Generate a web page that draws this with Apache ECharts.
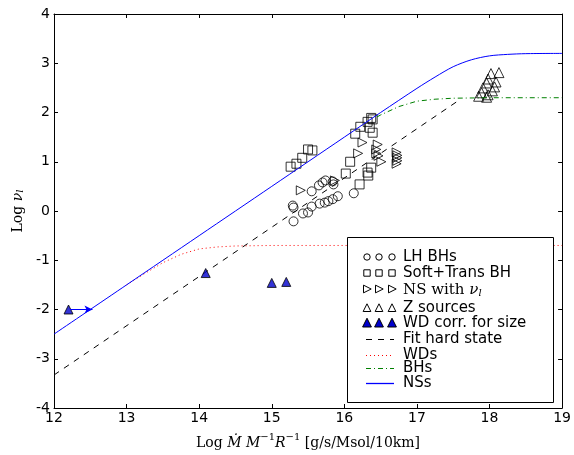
<!DOCTYPE html>
<html>
<head>
<meta charset="utf-8">
<script src="https://cdn.jsdelivr.net/npm/echarts@6/dist/echarts.min.js"></script>
<style>
  html, body { margin: 0; padding: 0; background: #fff; }
  #chart { width: 574px; height: 455px; }
</style>
</head>
<body>
<div id="chart"></div>
<script>
// Axis ranges and ticks
const xMin = 12, xMax = 19;
const yMin = -4, yMax = 4;

// Low/hard state black holes
const lhBHs = [
  [15.29, 0.11], [15.30, 0.07], [15.30, -0.21], [15.43, -0.05], [15.50, -0.03],
  [15.55, 0.09], [15.55, 0.40], [15.66, 0.15], [15.65, 0.52], [15.70, 0.58],
  [15.73, 0.17], [15.74, 0.62], [15.78, 0.20], [15.84, 0.24], [15.84, 0.60],
  [15.85, 0.54], [15.91, 0.30], [16.13, 0.36]
];

// Soft and transitional black holes
const softBHs = [
  [15.26, 0.90], [15.34, 0.96], [15.42, 1.08], [15.50, 1.25], [15.56, 1.23],
  [16.02, 0.76], [16.08, 1.00], [16.15, 1.57], [16.22, 1.71], [16.32, 1.81],
  [16.37, 1.89], [16.39, 1.86], [16.35, 1.69], [16.39, 1.59], [16.21, 0.54],
  [16.37, 0.88], [16.32, 0.78], [16.33, 0.72]
];

// Neutron stars with a measured frequency
const nsNu = [
  [15.40, 0.42], [15.87, 0.62], [16.19, 1.17], [16.25, 1.39], [16.46, 1.35],
  [16.44, 1.25], [16.44, 1.17], [16.47, 1.12], [16.51, 1.00], [16.72, 1.19],
  [16.73, 1.13], [16.73, 1.08], [16.73, 1.02], [16.72, 0.96]
];

// Z sources
const zSources = [
  [18.02, 2.79], [18.13, 2.81], [17.98, 2.68], [18.09, 2.62], [17.96, 2.60],
  [18.07, 2.52], [17.91, 2.50], [17.89, 2.40], [17.98, 2.36], [17.96, 2.31],
  [18.04, 2.44], [17.85, 2.33]
];

// White dwarfs corrected for size
const wdCorr = [
  [12.2, -2.0], [14.09, -1.26], [15.0, -1.46], [15.2, -1.44]
];

// Fit to the hard state
const fitHard = [[12.0, -3.33], [17.6, 2.27]];

// Model curves
const wdCurve = [
  [13.0, -1.50], [13.25, -1.27], [13.5, -1.05], [13.75, -0.88], [14.0, -0.77],
  [14.25, -0.73], [14.5, -0.71], [15.0, -0.70], [16.0, -0.70], [19.0, -0.70]
];
const bhCurve = [
  [16.45, 1.91], [16.5, 1.95], [16.75, 2.12], [17.0, 2.23], [17.25, 2.27],
  [17.5, 2.29], [18.0, 2.30], [19.0, 2.30]
];
const nsCurve = [
  [12.0, -2.5], [13.0, -1.5], [14.0, -0.5], [15.0, 0.5], [16.0, 1.5],
  [16.5, 2.0], [17.0, 2.49], [17.25, 2.72], [17.5, 2.93], [17.75, 3.07],
  [18.0, 3.15], [18.25, 3.18], [18.5, 3.195], [19.0, 3.2]
];

// Arrow from the first white dwarf to the NS line
const arrowFrom = [12.22, -2.0];
const arrowTo = [12.53, -2.0];

const SANS = 'DejaVu Sans';
const SERIF = 'DejaVu Serif';
const openStyle = { color: 'rgba(0,0,0,0)', borderColor: '#000', borderWidth: 1 };

const axisCommon = {
  interval: 1,
  axisLine: { show: true, onZero: false, lineStyle: { color: '#000', width: 1 } },
  axisTick: { show: true, inside: true, length: 4, lineStyle: { color: '#000' } },
  splitLine: { show: false }
};

function xAxis(pos, labels) {
  return Object.assign({}, axisCommon, {
    type: 'value', position: pos, min: xMin, max: xMax,
    axisLabel: { show: labels, color: '#000', fontFamily: SANS, fontSize: 14, margin: 3 }
  });
}
function yAxis(pos, labels) {
  return Object.assign({}, axisCommon, {
    type: 'value', position: pos, min: yMin, max: yMax,
    axisLabel: { show: labels, color: '#000', fontFamily: SANS, fontSize: 14, margin: 4 }
  });
}

// Rich text styles for math-like labels
function mathRich(size) {
  return {
    r: { fontFamily: SERIF, fontSize: size, color: '#000', fill: '#000', lineHeight: 18, verticalAlign: 'bottom' },
    i: { fontFamily: SERIF, fontStyle: 'italic', fontSize: size, color: '#000', fill: '#000', lineHeight: 18, verticalAlign: 'bottom' },
    sup: { fontFamily: SERIF, fontSize: 10, color: '#000', fill: '#000', lineHeight: 18, verticalAlign: 'top' },
    sub: { fontFamily: SERIF, fontStyle: 'italic', fontSize: 10, color: '#000', fill: '#000', lineHeight: 9, verticalAlign: 'bottom' }
  };
}

const xa = [xAxis('bottom', true), xAxis('top', false)];
xa[0].name = '{r|Log }{i|Ṁ}{r| }{i|M}{sup|−1}{i|R}{sup|−1}{r| [g/s/Msol/10km]}';
xa[0].nameLocation = 'middle';
xa[0].nameGap = 24;
xa[0].nameTextStyle = { rich: mathRich(14) };

const ya = [yAxis('left', true), yAxis('right', false)];
ya[0].name = '{r|Log }{i|ν}{sub|l}';
ya[0].nameLocation = 'middle';
ya[0].nameGap = 29;
ya[0].nameRotate = 90;
ya[0].nameTextStyle = { rich: mathRich(14) };

function scatter(name, data, symbol, size, style, rotate) {
  return {
    name, type: 'scatter', data, symbol, symbolSize: size,
    symbolRotate: rotate || 0, itemStyle: style, z: 3, silent: true
  };
}
function curve(name, data, color, type, z) {
  return {
    name, type: 'line', data, showSymbol: false, symbol: 'none',
    lineStyle: { color, width: 1, type }, z: z || 4, silent: true, smooth: false
  };
}

// Legend drawn as graphic elements
const LX = 347, LY = 237, LW = 206, LH = 165;
const mx = [367, 379, 392];
const textX = 403;
const rowY = [257, 273, 289, 308, 323, 339, 355, 368, 383];
const g = [];
g.push({ type: 'rect', shape: { x: LX + 0.5, y: LY + 0.5, width: LW, height: LH },
  style: { fill: '#fff', stroke: '#000', lineWidth: 1 }, z: 100 });

function tri(cx, cy, s, dir) {
  if (dir === 'right') return [[cx - s * 0.5, cy - s * 0.55], [cx + s * 0.6, cy], [cx - s * 0.5, cy + s * 0.55]];
  return [[cx, cy - s * 0.6], [cx + s * 0.55, cy + s * 0.5], [cx - s * 0.55, cy + s * 0.5]];
}
mx.forEach(x => {
  g.push({ type: 'circle', shape: { cx: x, cy: rowY[0], r: 3.2 }, style: { fill: 'none', stroke: '#000', lineWidth: 1 }, z: 101 });
  g.push({ type: 'rect', shape: { x: x - 3.2, y: rowY[1] - 3.2, width: 6.4, height: 6.4 }, style: { fill: 'none', stroke: '#000', lineWidth: 1 }, z: 101 });
  g.push({ type: 'polygon', shape: { points: tri(x, rowY[2], 7, 'right') }, style: { fill: 'none', stroke: '#000', lineWidth: 1 }, z: 101 });
  g.push({ type: 'polygon', shape: { points: tri(x, rowY[3], 7, 'up') }, style: { fill: 'none', stroke: '#000', lineWidth: 1 }, z: 101 });
  g.push({ type: 'polygon', shape: { points: tri(x, rowY[4], 8, 'up') }, style: { fill: '#0000cc', stroke: '#000', lineWidth: 1 }, z: 101 });
});
const lineSamples = [
  [rowY[5], '#000000', [6, 6]],
  [rowY[6], '#ff0000', [1, 3]],
  [rowY[7], '#008000', [5, 3, 1, 3]]
];
lineSamples.forEach(([y, c, dash]) => {
  g.push({ type: 'line', shape: { x1: 366, y1: y + 0.5, x2: 394, y2: y + 0.5 },
    style: { stroke: c, lineWidth: 1, lineDash: dash }, z: 101 });
});
// Solid sample for the NS curve
g.push({ id: 'nsSample', type: 'polyline', shape: { points: [[366, rowY[8] + 0.5], [394, rowY[8] + 0.5]] },
  style: { stroke: 'blue', lineWidth: 1.3, fill: null }, z: 110 });

const legendTexts = ['LH BHs', 'Soft+Trans BH', null, 'Z sources', 'WD corr. for size', 'Fit hard state', 'WDs', 'BHs', 'NSs'];
legendTexts.forEach((t, i) => {
  if (!t) return;
  g.push({ type: 'text', x: textX, y: rowY[i], style: { text: t, fontFamily: SANS, fontSize: 15, fill: '#000', verticalAlign: 'middle' }, z: 101 });
});
g.push({ type: 'text', x: textX, y: rowY[2], z: 101, style: {
  text: '{r|NS with }{i|ν}{sub|l}', verticalAlign: 'middle', fill: '#000',
  rich: mathRich(15)
}});

const chart = echarts.init(document.getElementById('chart'), null, { renderer: 'canvas' });
chart.setOption({
  animation: false,
  backgroundColor: '#fff',
  grid: { left: 54, top: 14, right: 11, bottom: 46, containLabel: false },
  xAxis: xa,
  yAxis: ya,
  series: [
    curve('Fit hard state', fitHard, '#000', [6, 6], 2),
    scatter('LH BHs', lhBHs, 'circle', 9, openStyle),
    scatter('Soft+Trans BH', softBHs, 'rect', 9, openStyle),
    scatter('NS with nu', nsNu, 'triangle', 9, openStyle, -90),
    scatter('Z sources', zSources, 'triangle', 10, openStyle),
    scatter('WD corr. for size', wdCorr, 'triangle', 9, { color: '#0000cc', borderColor: '#000', borderWidth: 1 }),
    curve('WDs', wdCurve, '#ff0000', [1, 3]),
    curve('BHs', bhCurve, '#008000', [5, 3, 1, 3]),
    Object.assign(curve('NSs', nsCurve, '#0000ff', 'solid'), {
      smooth: 0.3,
      markLine: {
        silent: true, symbol: ['none', 'arrow'], symbolSize: [6, 8],
        label: { show: false },
        lineStyle: { color: '#0000ff', type: 'solid', width: 1 },
        data: [[{ coord: arrowFrom }, { coord: arrowTo }]]
      }
    })
  ],
  graphic: g
});
</script>
</body>
</html>
